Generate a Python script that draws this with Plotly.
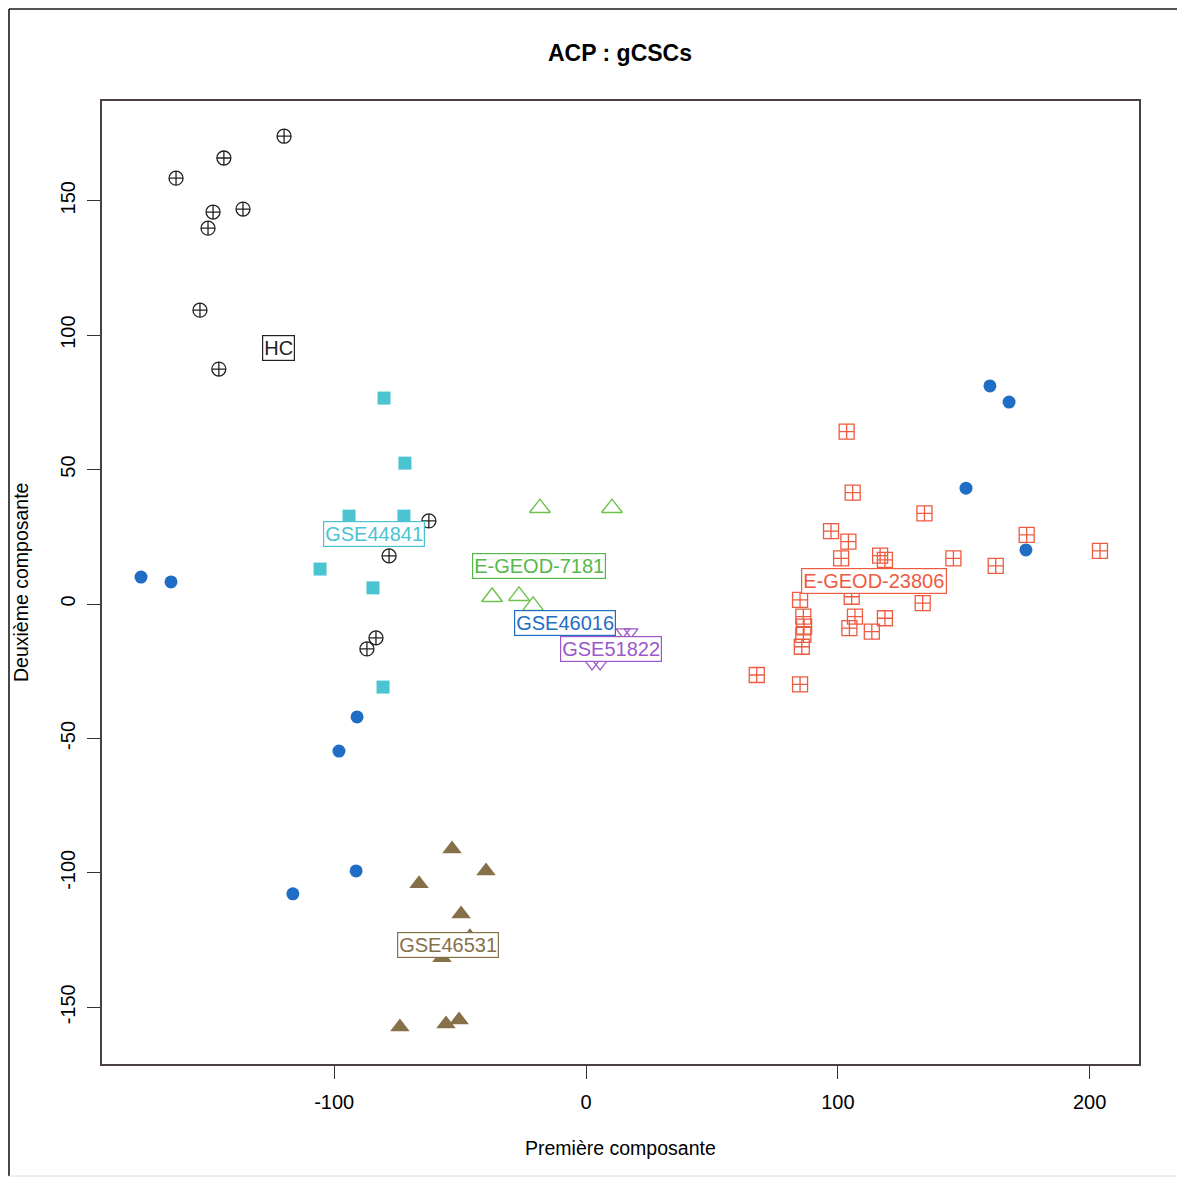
import plotly.graph_objects as go

# ---- data ----
hc_x = [-162.8, -143.8, -119.9, -148.1, -150.1, -136.2, -153.3, -145.8, -62.4, -78.2, -83.4, -87.0]
hc_y = [158.4, 165.9, 174.0, 145.8, 139.8, 146.9, 109.3, 87.4, 30.9, 17.9, -12.6, -16.7]

gse44841_x = [-80.2, -71.9, -94.1, -72.3, -105.6, -84.6, -80.6]
gse44841_y = [76.6, 52.4, 32.7, 32.7, 13.0, 6.0, -30.9]

gse46016_x = [-176.7, -164.8, -90.9, -98.1, -91.3, -116.4, 160.4, 168.0, 150.9, 174.7]
gse46016_y = [10.0, 8.2, -42.0, -54.7, -99.3, -107.8, 81.1, 75.1, 43.1, 20.1]

egeod7181_x = [-18.3, 10.3, -37.3, -26.6, -21.0]
egeod7181_y = [35.7, 35.7, 2.6, 3.0, -0.7]

gse51822_x = [14.7, 17.9, 2.4, 5.6]
gse51822_y = [-10.4, -10.4, -22.3, -22.3]

gse46531_x = [-53.2, -39.7, -66.3, -49.6, -57.2, -73.9, -55.6, -50.4, -46.1]
gse46531_y = [-91.1, -99.3, -104.1, -115.3, -131.6, -157.3, -156.2, -154.7, -123.8]

egeod23806_x = [103.5, 105.9, 134.4, 97.3, 104.2, 101.3, 116.8, 118.7, 145.9, 175.0, 204.1, 162.7,
                105.5, 85.0, 133.7, 86.3, 106.8, 118.7, 104.6, 86.6, 113.5, 86.3, 85.7, 67.8, 85.0]
egeod23806_y = [64.1, 41.4, 33.7, 27.1, 23.2, 17.0, 18.0, 16.4, 17.0, 25.7, 19.8, 14.2,
                2.7, 1.5, 0.3, -4.7, -4.7, -5.3, -9.0, -8.4, -10.3, -11.5, -15.9, -26.4, -29.9]

group_names = ["HC", "GSE44841", "E-GEOD-7181", "GSE46016", "GSE51822", "GSE46531", "E-GEOD-23806"]
label_x = [-122.3, -84.2, -18.7, -8.3, 9.9, -54.8, 114.4]
label_y = [95.2, 26.0, 14.1, -7.1, -16.7, -126.8, 8.6]
label_colors = ["#222222", "#4BC4D1", "#55B84A", "#1F6DC4", "#9B59C9", "#86704A", "#EE5A3F"]

x_ticks = [-100, 0, 100, 200]
x_ticktext = ["-100", "0", "100", "200"]
y_ticks = [-150, -100, -50, 0, 50, 100, 150]
y_ticktext = ["-150", "-100", "-50", "0", "50", "100", "150"]

FONT = "Liberation Sans, Arial, Helvetica, sans-serif"

fig = go.Figure()

def add(x, y, symbol, color, size, lw=1.3):
    fig.add_trace(go.Scatter(
        x=x, y=y, mode="markers", showlegend=False, hoverinfo="x+y",
        marker=dict(symbol=symbol, size=size, color=color,
                    line=dict(color=color, width=lw))))

add(hc_x, hc_y, "circle-cross-open", "#222222", 14, 1.3)
add(gse44841_x, gse44841_y, "square", "#4BC4D1", 13, 0)
add(gse46016_x, gse46016_y, "circle", "#1F6DC4", 13, 0)
add(egeod7181_x, egeod7181_y, "triangle-up-open", "#6CC24A", 18, 1.4)
add(gse51822_x, gse51822_y, "triangle-down-open", "#9B59C9", 12, 1.3)
add(gse46531_x, gse46531_y, "triangle-up", "#86704A", 17, 0)
add(egeod23806_x, egeod23806_y, "square-cross-open", "#EE5A3F", 15, 1.3)

for name, lx, ly, c in zip(group_names, label_x, label_y, label_colors):
    fig.add_annotation(x=lx, y=ly, text=name, showarrow=False,
                       font=dict(family=FONT, size=20, color=c),
                       bgcolor="white", bordercolor=c, borderwidth=1.2, borderpad=1)

# page body has an 8px margin -> work in window pixels, offset by 8
OFF = 8
W, H = 1185 - OFF, 1178 - OFF
L, R, T, B = 102 - OFF, 46, 101 - OFF, 114
pw, ph = W - L - R, H - T - B

def px2paper_x(px):
    return (px - OFF - L) / pw

def px2paper_y(py):
    return (H - B - (py - OFF)) / ph

# outer figure frame (dark left/top, faint right/bottom)
fx0, fx1 = px2paper_x(9), px2paper_x(1182)
fy0, fy1 = px2paper_y(1176), px2paper_y(9)
fig.add_shape(type="line", xref="paper", yref="paper", x0=fx0, x1=fx1, y0=fy1, y1=fy1,
              line=dict(color="#1a1a1a", width=1.6))
fig.add_shape(type="line", xref="paper", yref="paper", x0=fx0, x1=fx0, y0=fy0, y1=fy1,
              line=dict(color="#1a1a1a", width=1.6))
fig.add_shape(type="line", xref="paper", yref="paper", x0=fx1, x1=fx1, y0=fy0, y1=fy1,
              line=dict(color="#e8d8d0", width=1))
fig.add_shape(type="line", xref="paper", yref="paper", x0=fx0, x1=fx1, y0=fy0, y1=fy0,
              line=dict(color="#e8d8d0", width=1))

fig.add_annotation(xref="paper", yref="paper", x=px2paper_x(620), y=px2paper_y(53),
                   xanchor="center", yanchor="middle",
                   text="<b>ACP : gCSCs</b>", showarrow=False,
                   font=dict(family=FONT, size=23, color="black"))
fig.add_annotation(xref="paper", yref="paper", x=px2paper_x(620), y=px2paper_y(1148),
                   xanchor="center", yanchor="middle",
                   text="Première composante", showarrow=False,
                   font=dict(family=FONT, size=19.5, color="black"))
fig.add_annotation(xref="paper", yref="paper", x=px2paper_x(21), y=px2paper_y(583),
                   xanchor="center", yanchor="middle",
                   text="Deuxième composante", showarrow=False, textangle=-90,
                   font=dict(family=FONT, size=19.5, color="black"))

axis_common = dict(showgrid=False, zeroline=False, showline=True, mirror=True,
                   linecolor="#4a4040", linewidth=1.5, ticks="outside", ticklen=13,
                   tickcolor="#333333", tickwidth=1.2,
                   tickfont=dict(family=FONT, size=20, color="black"))

fig.update_layout(
    width=W, height=H,
    margin=dict(l=L, r=R, t=T, b=B, autoexpand=False),
    paper_bgcolor="white", plot_bgcolor="white",
    xaxis=dict(range=[-192.2, 219.6], tickvals=x_ticks, ticktext=x_ticktext,
               ticklabelstandoff=6, **axis_common),
    yaxis=dict(range=[-171.1, 187.1], tickvals=y_ticks, ticktext=y_ticktext,
               tickangle=-90, ticklabelstandoff=4, **axis_common),
)

fig.write_html("out.html")
